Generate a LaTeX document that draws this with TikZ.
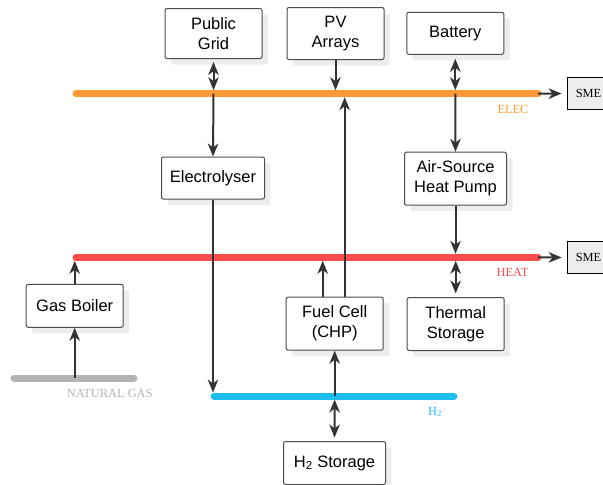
\documentclass[tikz,border=0pt]{standalone}
\usepackage{fontspec}
\setmainfont{Liberation Sans}
\newfontfamily\serifl{Liberation Serif}
\usetikzlibrary{arrows.meta,shadows}
\definecolor{elec}{HTML}{FF9933}
\definecolor{heat}{HTML}{FF4D4D}
\definecolor{htwo}{HTML}{1EBFEF}
\definecolor{ngas}{HTML}{B3B3B3}
\definecolor{arr}{HTML}{333333}
\begin{document}
\begin{tikzpicture}[x=1pt,y=-1pt,
  box/.style={draw=black!70, line width=1pt, rounded corners=2pt, fill=white, align=center,
    font=\fontsize{16.5}{20}\selectfont, inner sep=0pt,
    drop shadow={shadow xshift=6pt, shadow yshift=-6pt, fill=black!7, opacity=1}},
  smebox/.style={draw=black, line width=1.8pt, fill=black!7, font=\serifl\fontsize{12.4}{14}\selectfont,
    minimum width=42pt, minimum height=32pt, inner sep=0pt},
  bus/.style={line width=7pt, line cap=round},
  buslabel/.style={font=\serifl\fontsize{12.4}{14}\selectfont},
  tip/.tip={Stealth[length=13pt,width=10.5pt,inset=4pt]},
  conn/.style={draw=arr, line width=2pt, -tip},
  dbl/.style={draw=arr, line width=2pt, tip-tip}
]
\useasboundingbox (0,0) rectangle (603,485);

% buses
\coordinate (e0) at (76,93.7);  \coordinate (e1) at (538,93.7);
\coordinate (h0) at (76,257.3); \coordinate (h1) at (538,257.3);
\coordinate (g0) at (14,378); \coordinate (g1) at (134,378);
\coordinate (y0) at (214,396); \coordinate (y1) at (454,396);
\draw[bus, elec] (e0) -- (e1);
\draw[bus, heat] (h0) -- (h1);
\draw[bus, ngas] (g0) -- (g1);
\draw[bus, htwo] (y0) -- (y1);

\node[buslabel, text=elec] (lelec) at (513,109.5) {ELEC};
\node[buslabel, text=heat] (lheat) at (512.5,272.3) {HEAT};
\node[buslabel, text=htwo] (lh2) at (435,412) {H\textsubscript{2}};
\node[buslabel, text=ngas] (lng) at (109.7,393.7) {NATURAL GAS};

% nodes
\node[box, minimum width=97pt, minimum height=50pt] (grid) at (213.5,33.5) {Public\\Grid};
\node[box, minimum width=97pt, minimum height=52pt] (pv) at (335.5,33.5) {PV\\Arrays};
\node[box, minimum width=97pt, minimum height=42pt] (bat) at (455.3,33.3) {Battery};
\node[box, minimum width=103pt, minimum height=42pt] (elz) at (213,178) {Electrolyser};
\node[box, minimum width=102pt, minimum height=53pt] (hp) at (455.5,178.7) {Air-Source\\Heat Pump};
\node[box, minimum width=97pt, minimum height=53pt] (ts) at (455.7,324) {Thermal\\Storage};
\node[box, minimum width=97pt, minimum height=53pt] (fc) at (334.7,323.7) {Fuel Cell\\(CHP)};
\node[box, minimum width=97pt, minimum height=43pt] (gb) at (74.7,305.8) {Gas Boiler};
\node[box, minimum width=102pt, minimum height=43pt] (h2s) at (334.5,463) {H\textsubscript{2} Storage};
\node[smebox] (sme1) at (588.5,93.5) {SME};
\node[smebox] (sme2) at (588.5,257.5) {SME};

% connectors
\draw[dbl, shorten <=3pt, shorten >=3.5pt] (grid.south) -- (grid.south |- e0);
\draw[conn] (grid.south |- e0) -- (elz.north);
\draw[conn, shorten >=3.5pt] (pv.south) -- (pv.south |- e0);
\draw[dbl, shorten <=4pt, shorten >=3.5pt] (bat.south) -- (bat.south |- e0);
\draw[conn] (bat.south |- e0) -- (hp.north);
\draw[conn, shorten >=3.5pt] (hp.south) -- (hp.south |- h0);
\draw[dbl, shorten <=3.5pt, shorten >=3.5pt] (ts.north |- h0) -- (ts.north);
\draw[conn, shorten >=3.5pt] ([xshift=10pt]fc.north) -- ([xshift=10pt]fc.north |- e0);
\draw[conn, shorten >=3.5pt] ([xshift=-12pt]fc.north) -- ([xshift=-12pt]fc.north |- h0);
\draw[conn, shorten >=3.5pt] (gb.north) -- (gb.north |- h0);
\draw[conn] (gb.south |- g0) -- (gb.south);
\draw[conn, shorten >=3.5pt] (elz.south) -- (elz.south |- y0);
\draw[conn] (fc.south |- y0) -- (fc.south);
\draw[dbl, shorten <=3.5pt, shorten >=3.5pt] (fc.south |- y0) -- (h2s.north);
\draw[conn, shorten >=5pt] (e1) -- (sme1.west);
\draw[conn, shorten >=5pt] (h1) -- (sme2.west);
\end{tikzpicture}
\end{document}
